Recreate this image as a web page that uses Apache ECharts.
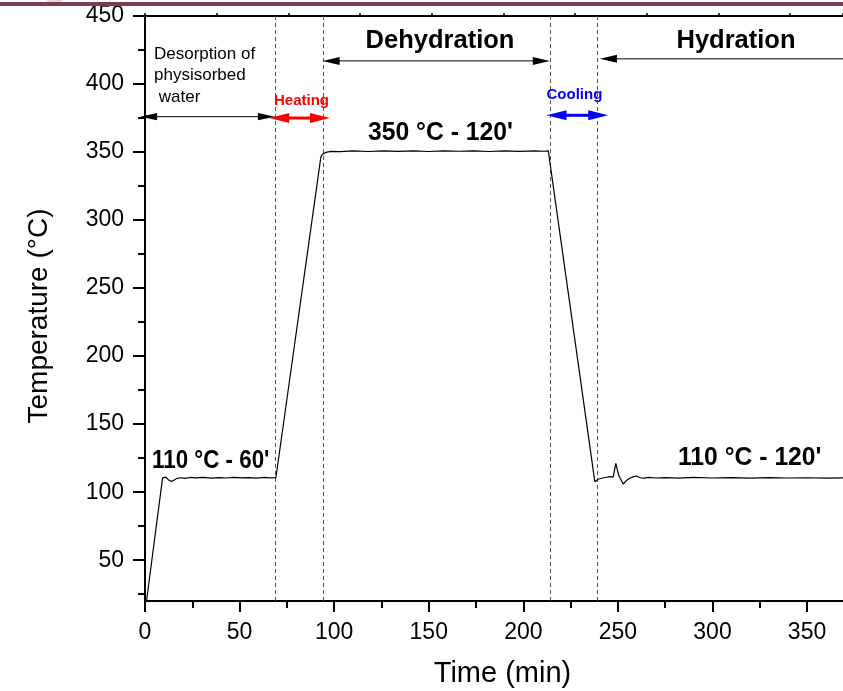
<!DOCTYPE html>
<html>
<head>
<meta charset="utf-8">
<script src="https://cdn.jsdelivr.net/npm/echarts@6/dist/echarts.min.js"></script>
<style>
  html, body { margin: 0; padding: 0; background: #fff; }
  #chart { width: 843px; height: 691px; }
</style>
</head>
<body>
<div id="chart"></div>
<script>
// Furnace programme: temperature (°C) recorded against time (min)
const timeMin = [
  0.8, 9.3, 10, 11, 12.5, 14, 15.5, 17, 19, 21, 24, 27, 31, 35, 39, 43, 47, 51, 55, 59, 63, 66, 69.2,
  93, 94, 95.5, 98.5, 103, 110, 118, 126, 134, 142, 150, 158, 166, 174, 182, 190, 198, 206, 211, 213.2,
  237.8, 239.5, 241.4, 243.5, 245.8, 247.5, 248.9, 250.5, 252.8, 254.5, 256.3, 258, 259.9, 261.5, 263.4,
  266, 270, 275, 282, 290, 300, 310, 320, 330, 340, 350, 360, 369
];
const tempC = [
  20, 110.5, 111.8, 111, 109, 107.8, 109, 110.2, 110.6, 110.2, 110.8, 110.5, 110.9, 110.3, 110.7, 110.4, 110.9, 110.5, 110.7, 110.3, 110.8, 110.5, 110.6,
  346.6, 348.6, 349.7, 350.5, 350.3, 350.8, 350.4, 350.9, 350.5, 350.8, 350.4, 350.9, 350.6, 350.8, 350.4, 350.9, 350.5, 350.8, 350.6, 350.8,
  107.7, 109.5, 110.2, 110.8, 111.4, 111.1, 121.2, 112, 106, 108.5, 110.2, 111.2, 111.9, 110.8, 110.2,
  110.9, 110.4, 110.7, 110.3, 110.8, 110.4, 110.7, 110.3, 110.7, 110.4, 110.6, 110.3, 110.5
];

// Boundaries between the programme stages (min)
const stageBounds = [69, 94, 214, 239];

// Axis ticks
const xMajorTicks = [0, 50, 100, 150, 200, 250, 300, 350];
const xMinorTicks = [25, 75, 125, 175, 225, 275, 325];
const yMajorTicks = [50, 100, 150, 200, 250, 300, 350, 400, 450];
const yMinorTicks = [25, 75, 125, 175, 225, 275, 325, 375, 425];

// Stage arrows: start time, end time, temperature level
const arrowFrom  = [-2.6, 65.7, 93.9, 212.3, 240.5];
const arrowTo    = [68.7, 97.8, 214, 244.9, 385];
const arrowLevel = [376, 375, 417, 377, 418.5];

// Arrow appearance, one entry per arrow
const arrowLook = [
  { color: '#000', width: 1,   len: 17, half: 3.6, start: true,  end: true },
  { color: '#ff0000', width: 3, len: 20, half: 5,  start: true,  end: true },
  { color: '#000', width: 1,   len: 17, half: 4,   start: true,  end: true },
  { color: '#0000ff', width: 3, len: 20, half: 5,  start: true,  end: true },
  { color: '#000', width: 1,   len: 17, half: 4,   start: true,  end: false }
];

const FONT = "'Liberation Sans', Arial, Helvetica, sans-serif";

function note(text, x, y, size, opts) {
  opts = opts || {};
  return {
    type: 'text',
    x: x, y: y,
    scaleX: opts.scaleX || 1,
    z: 100,
    style: {
      text: text,
      x: 0, y: 0,
      fill: opts.color || '#000',
      font: (opts.bold ? 'bold ' : '') + size + 'px ' + FONT,
      textAlign: opts.align || 'left',
      textVerticalAlign: 'middle'
    }
  };
}

const chart = echarts.init(document.getElementById('chart'), null, { renderer: 'canvas' });

chart.setOption({
  animation: false,
  backgroundColor: '#fff',
  grid: { left: 145, right: 0, top: 16, bottom: 90, containLabel: false, outerBoundsMode: 'none' },
  xAxis: [
    {
      type: 'value',
      min: 0, max: 369,
      name: 'Time (min)',
      nameLocation: 'middle',
      nameGap: 58,
      nameTextStyle: { fontFamily: FONT, fontSize: 29, color: '#000', padding: [0, 0, 0, 17] },
      axisLine: { show: true, onZero: false, lineStyle: { color: '#000', width: 2 } },
      axisTick: { show: true, length: 11, customValues: xMajorTicks, lineStyle: { color: '#000', width: 2 } },
      axisLabel: { fontFamily: FONT, fontSize: 23, color: '#000', margin: 20, customValues: xMajorTicks },
      splitLine: { show: false }
    },
    {
      type: 'value',
      position: 'bottom',
      min: 0, max: 369,
      axisLine: { show: false },
      axisTick: { show: true, length: 7, customValues: xMinorTicks, lineStyle: { color: '#000', width: 2 } },
      axisLabel: { show: false },
      splitLine: { show: false }
    },
    {
      type: 'value',
      position: 'top',
      min: 0, max: 369, interval: 37.9,
      axisLine: { show: true, onZero: false, lineStyle: { color: '#000', width: 2 } },
      axisTick: { show: true, length: 3, lineStyle: { color: '#000', width: 1.5 } },
      axisLabel: { show: false },
      splitLine: { show: false }
    }
  ],
  yAxis: [
    {
      type: 'value',
      min: 20, max: 450,
      name: 'Temperature (°C)',
      nameLocation: 'middle',
      nameGap: 92,
      nameRotate: 90,
      nameTextStyle: { fontFamily: FONT, fontSize: 28, color: '#000', padding: [0, 15, 0, 0] },
      axisLine: { show: true, onZero: false, lineStyle: { color: '#000', width: 2 } },
      axisTick: { show: true, length: 12, customValues: yMajorTicks, lineStyle: { color: '#000', width: 2 } },
      axisLabel: { fontFamily: FONT, fontSize: 23, color: '#000', margin: 21, customValues: yMajorTicks },
      splitLine: { show: false }
    },
    {
      type: 'value',
      min: 20, max: 450,
      position: 'left',
      offset: 0,
      axisLine: { show: false },
      axisTick: { show: true, length: 7, customValues: yMinorTicks, lineStyle: { color: '#000', width: 2 } },
      axisLabel: { show: false },
      splitLine: { show: false }
    }
  ],
  series: [
    {
      type: 'line',
      data: timeMin.map((t, i) => [t, tempC[i]]),
      showSymbol: false,
      symbol: 'none',
      smooth: false,
      lineStyle: { color: '#000', width: 1.2 },
      z: 5,
      markLine: {
        silent: true,
        symbol: ['none', 'none'],
        label: { show: false },
        lineStyle: { color: '#555', width: 1, type: [4, 3] },
        data: stageBounds.map(b => ({ xAxis: b }))
      }
    },
    {
      type: 'custom',
      clip: false,
      z: 6,
      data: arrowFrom.map((s, i) => [s, arrowTo[i], arrowLevel[i], i]),
      encode: { x: [0, 1], y: 2 },
      renderItem: function (params, api) {
        const look = arrowLook[api.value(3)];
        const p1 = api.coord([api.value(0), api.value(2)]);
        const p2 = api.coord([api.value(1), api.value(2)]);
        const y = p1[1];
        const children = [];
        const x1 = look.start ? p1[0] + look.len * 0.8 : p1[0];
        const x2 = look.end ? p2[0] - look.len * 0.8 : p2[0];
        children.push({
          type: 'line',
          shape: { x1: x1, y1: y, x2: x2, y2: y },
          style: { stroke: look.color, lineWidth: look.width }
        });
        if (look.start) {
          children.push({
            type: 'polygon',
            shape: { points: [[p1[0], y], [p1[0] + look.len, y - look.half], [p1[0] + look.len, y + look.half]] },
            style: { fill: look.color }
          });
        }
        if (look.end) {
          children.push({
            type: 'polygon',
            shape: { points: [[p2[0], y], [p2[0] - look.len, y - look.half], [p2[0] - look.len, y + look.half]] },
            style: { fill: look.color }
          });
        }
        return { type: 'group', children: children };
      }
    }
  ],
  graphic: [
    { type: 'ellipse', shape: { cx: 55, cy: -3, rx: 10, ry: 6 }, style: { fill: '#d9d9d9' }, z: 90 },
    { type: 'rect', shape: { x: 0, y: 2, width: 843, height: 4 }, style: { fill: '#7b3b52' }, z: 91 },
    note('Desorption of', 154, 54, 17),
    note('physisorbed', 154, 75, 17),
    note(' water', 154, 97, 17),
    note('Heating', 274, 101, 15, { bold: true, color: '#ff0000' }),
    note('Cooling', 546.5, 95, 15, { bold: true, color: '#0000ff' }),
    note('Dehydration', 440, 41, 25.5, { bold: true, align: 'center' }),
    note('Hydration', 736, 41, 25.5, { bold: true, align: 'center' }),
    note("350 °C - 120'", 368, 133, 26, { bold: true, scaleX: 0.95 }),
    note("110 °C - 60'", 152, 461, 26, { bold: true, scaleX: 0.86 }),
    note("110 °C - 120'", 678, 458, 26, { bold: true, scaleX: 0.95 })
  ]
});
</script>
</body>
</html>
